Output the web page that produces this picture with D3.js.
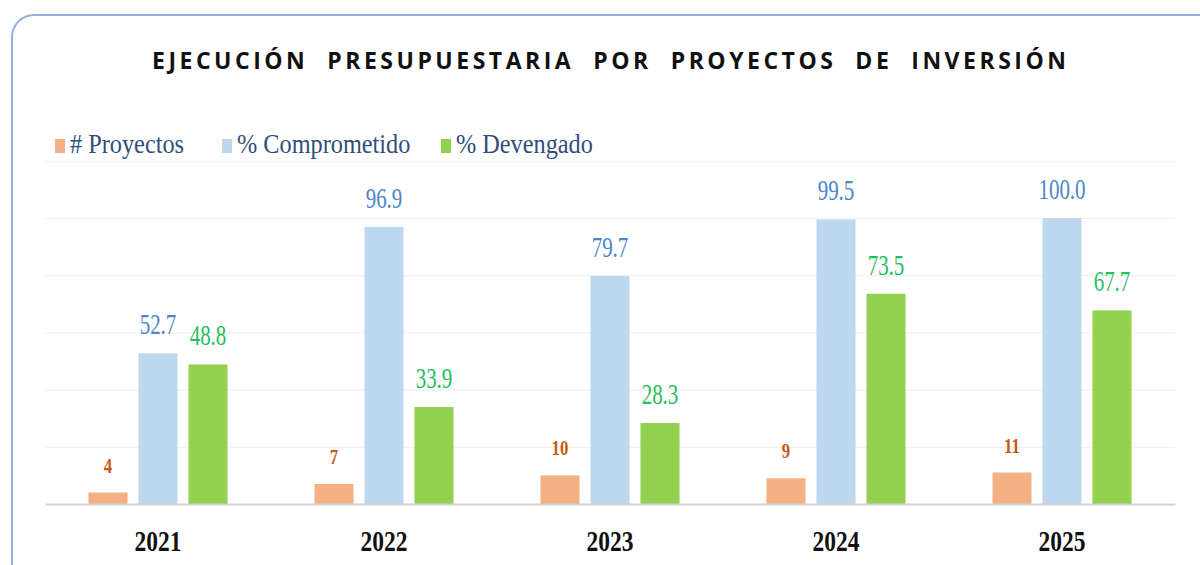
<!DOCTYPE html>
<html>
<head>
<meta charset="utf-8">
<script src="https://cdn.jsdelivr.net/npm/d3@7"></script>
<style>
  body { margin: 0; background: #fff; }
  svg { display: block; }
</style>
</head>
<body>
<svg id="chart" width="1200" height="565"></svg>
<script>
// data
const years = ['2021', '2022', '2023', '2024', '2025'];
const seriesNames = ['# Proyectos', '% Comprometido', '% Devengado'];
const proyectos = [4, 7, 10, 9, 11];
const comprometido = [52.7, 96.9, 79.7, 99.5, 100.0];
const devengado = [48.8, 33.9, 28.3, 73.5, 67.7];
const gridTicks = [0, 20, 40, 60, 80, 100, 120];

const colors = ['#f4b183', '#bdd7ee', '#92d050'];
const labelColors = ['#c55a11', '#4a86c8', '#1fbf5f'];
const values = [proyectos, comprometido, devengado];
const formats = [d3.format('d'), d3.format('.1f'), d3.format('.1f')];

const svg = d3.select('#chart');

// frame
svg.append('rect')
   .attr('x', 12).attr('y', 15)
   .attr('width', 1210).attr('height', 580)
   .attr('rx', 22).attr('ry', 22)
   .attr('fill', 'none')
   .attr('stroke', '#8fb2dc')
   .attr('stroke-width', 2);

// title
svg.append('text')
   .attr('x', 152).attr('y', 69)
   .attr('textLength', 914)
   .attr('lengthAdjust', 'spacing')
   .attr('font-family', 'Open Sans, sans-serif')
   .attr('font-weight', 700)
   .attr('font-size', 23)
   .attr('fill', '#111')
   .style('white-space', 'pre')
   .text('EJECUCIÓN  PRESUPUESTARIA  POR  PROYECTOS  DE  INVERSIÓN');

// scales
const x0 = d3.scaleBand()
             .domain(years)
             .range([45, 1175]);
const x1 = d3.scaleBand()
             .domain(seriesNames)
             .range([x0.bandwidth() / 2 - 75, x0.bandwidth() / 2 + 75])
             .paddingInner(0.22)
             .paddingOuter(0.11);
const y = d3.scaleLinear()
            .domain([0, 120])
            .range([504, 504 - 120 * 2.86]);

// grid lines
const yGrid = d3.axisLeft(y)
                .tickValues(gridTicks.slice(1))
                .tickSize(-(x0.range()[1] - x0.range()[0]))
                .tickFormat('');
svg.append('g')
   .attr('transform', `translate(${x0.range()[0]},0)`)
   .call(yGrid)
   .call(g => g.select('.domain').remove())
   .call(g => g.selectAll('line').attr('stroke', '#f1f1f1').attr('stroke-width', 1.2));

// legend
const legendX = [55, 222, 441];
const legend = svg.append('g').attr('class', 'legend');
seriesNames.forEach((name, i) => {
  legend.append('rect')
        .attr('x', legendX[i]).attr('y', 139)
        .attr('width', 10).attr('height', 14)
        .attr('fill', colors[i]);
  legend.append('text')
        .attr('transform', `translate(${legendX[i] + 15},153) scale(0.9,1)`)
        .attr('font-family', 'Liberation Serif, serif')
        .attr('font-size', 27)
        .attr('fill', '#2f4e7a')
        .text(name);
});

// bars
const groups = svg.append('g')
                  .selectAll('g')
                  .data(years)
                  .join('g')
                  .attr('transform', d => `translate(${x0(d)},0)`);

const cells = (d, yi) => seriesNames.map((s, si) => ({ s, si, v: values[si][yi] }));

groups.selectAll('rect')
      .data(cells)
      .join('rect')
      .attr('x', d => x1(d.s))
      .attr('width', x1.bandwidth())
      .attr('y', d => y(d.v))
      .attr('height', d => y(0) - y(d.v))
      .attr('fill', d => colors[d.si]);

// value labels, condensed
groups.selectAll('text.val')
      .data(cells)
      .join('text')
      .attr('class', 'val')
      .attr('transform', d => {
        let cx = x1(d.s) + x1.bandwidth() / 2;
        let cy = y(d.v) - (d.si === 0 ? 20 : 19);
        return `translate(${cx},${cy}) scale(${d.si === 0 ? 0.8 : 0.7},1)`;
      })
      .attr('text-anchor', 'middle')
      .attr('font-family', 'Liberation Serif, serif')
      .attr('font-weight', d => d.si === 0 ? 700 : 400)
      .attr('font-size', d => d.si === 0 ? 21 : 30)
      .attr('fill', d => labelColors[d.si])
      .text(d => formats[d.si](d.v));

// x axis
const xAxis = d3.axisBottom(x0).tickSize(0).tickFormat('');
svg.append('g')
   .attr('transform', `translate(0,${y(0)})`)
   .call(xAxis)
   .call(g => g.select('.domain').attr('stroke', '#d0d0d0').attr('stroke-width', 2));

svg.append('g')
   .selectAll('text')
   .data(years)
   .join('text')
   .attr('transform', d => `translate(${x0(d) + x0.bandwidth() / 2},551) scale(0.81,1)`)
   .attr('text-anchor', 'middle')
   .attr('font-family', 'Liberation Serif, serif')
   .attr('font-weight', 700)
   .attr('font-size', 29)
   .attr('fill', '#111')
   .text(d => d);
</script>
</body>
</html>
